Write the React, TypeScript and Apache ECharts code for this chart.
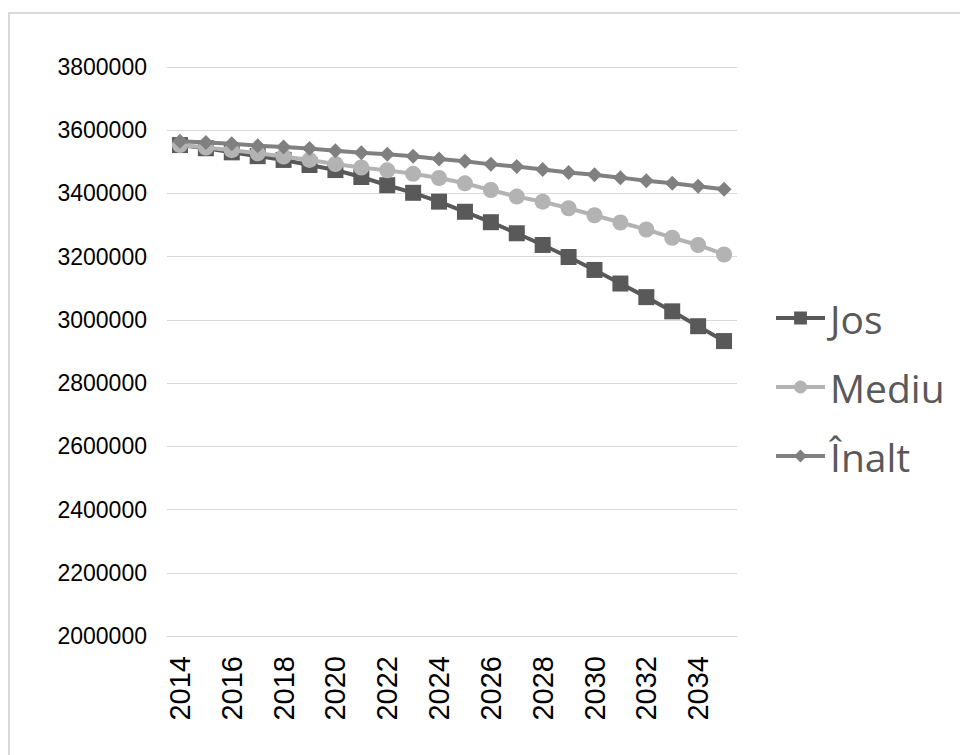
import React, { useEffect, useRef } from "react";
import * as echarts from "echarts";

const years = [
  "2014", "2015", "2016", "2017", "2018", "2019", "2020", "2021", "2022", "2023", "2024",
  "2025", "2026", "2027", "2028", "2029", "2030", "2031", "2032", "2033", "2034", "2035",
];

const jos = [
  3553000, 3543000, 3530000, 3518000, 3506000, 3490000, 3474000, 3452000, 3426000, 3402000, 3374000,
  3342000, 3309000, 3274000, 3237000, 3199000, 3158000, 3115000, 3072000, 3027000, 2980000, 2933000,
];

const mediu = [
  3553000, 3545000, 3537000, 3527000, 3517000, 3506000, 3493000, 3482000, 3473000, 3462000, 3449000,
  3432000, 3411000, 3390000, 3374000, 3353000, 3331000, 3308000, 3286000, 3260000, 3237000, 3207000,
];

const inalt = [
  3565000, 3561000, 3557000, 3551000, 3547000, 3542000, 3535000, 3529000, 3524000, 3518000, 3509000,
  3502000, 3492000, 3485000, 3476000, 3466000, 3459000, 3450000, 3440000, 3432000, 3423000, 3413000,
];

const seriesNames = ["Jos", "Mediu", "Înalt"];

export default function App() {
  const ref = useRef<HTMLDivElement>(null);

  useEffect(() => {
    document.body.style.margin = "0";
    if (!ref.current) return;
    const chart = echarts.init(ref.current, undefined, { renderer: "svg" });
    chart.setOption({
      animation: false,
      backgroundColor: "#ffffff",
      graphic: [
        {
          type: "rect",
          shape: { x: 9, y: 13, width: 980, height: 780 },
          style: { fill: "none", stroke: "#d9d9d9", lineWidth: 2 },
          silent: true,
        },
      ],
      grid: { left: 167, right: 223, top: 67, bottom: 119, containLabel: false },
      legend: {
        orient: "vertical",
        left: 769,
        top: 293,
        itemWidth: 49,
        itemHeight: 16,
        itemGap: 29,
        data: seriesNames,
        lineStyle: { width: 4 },
        textStyle: {
          fontFamily: "Open Sans",
          fontSize: 39,
          color: "#595959",
          lineHeight: 40,
        },
      },
      xAxis: {
        type: "category",
        data: years,
        boundaryGap: true,
        axisTick: { show: false },
        axisLine: { show: true, lineStyle: { color: "#d9d9d9", width: 1 } },
        axisLabel: {
          rotate: 90,
          interval: 1,
          margin: 20,
          fontFamily: "Liberation Sans",
          fontSize: 29,
          color: "#000000",
        },
      },
      yAxis: {
        type: "value",
        min: 2000000,
        max: 3800000,
        interval: 200000,
        axisLine: { show: false },
        axisTick: { show: false },
        splitLine: { lineStyle: { color: "#d9d9d9", width: 1 } },
        axisLabel: {
          margin: 20,
          fontFamily: "Liberation Sans",
          fontSize: 23,
          color: "#000000",
          formatter: (v: number) => String(v),
        },
      },
      series: [
        {
          name: "Jos",
          type: "line",
          data: jos,
          symbol: "rect",
          symbolSize: 16,
          color: "#595959",
          lineStyle: { color: "#595959", width: 4 },
          itemStyle: { color: "#595959" },
          z: 3,
        },
        {
          name: "Mediu",
          type: "line",
          data: mediu,
          symbol: "circle",
          symbolSize: 16,
          color: "#b3b3b3",
          lineStyle: { color: "#b3b3b3", width: 4 },
          itemStyle: { color: "#b3b3b3" },
          z: 4,
        },
        {
          name: "Înalt",
          type: "line",
          data: inalt,
          symbol: "diamond",
          symbolSize: 15,
          color: "#808080",
          lineStyle: { color: "#808080", width: 4 },
          itemStyle: { color: "#808080" },
          z: 5,
        },
      ],
    });
    return () => chart.dispose();
  }, []);

  return <div ref={ref} style={{ width: 960, height: 755 }} />;
}
